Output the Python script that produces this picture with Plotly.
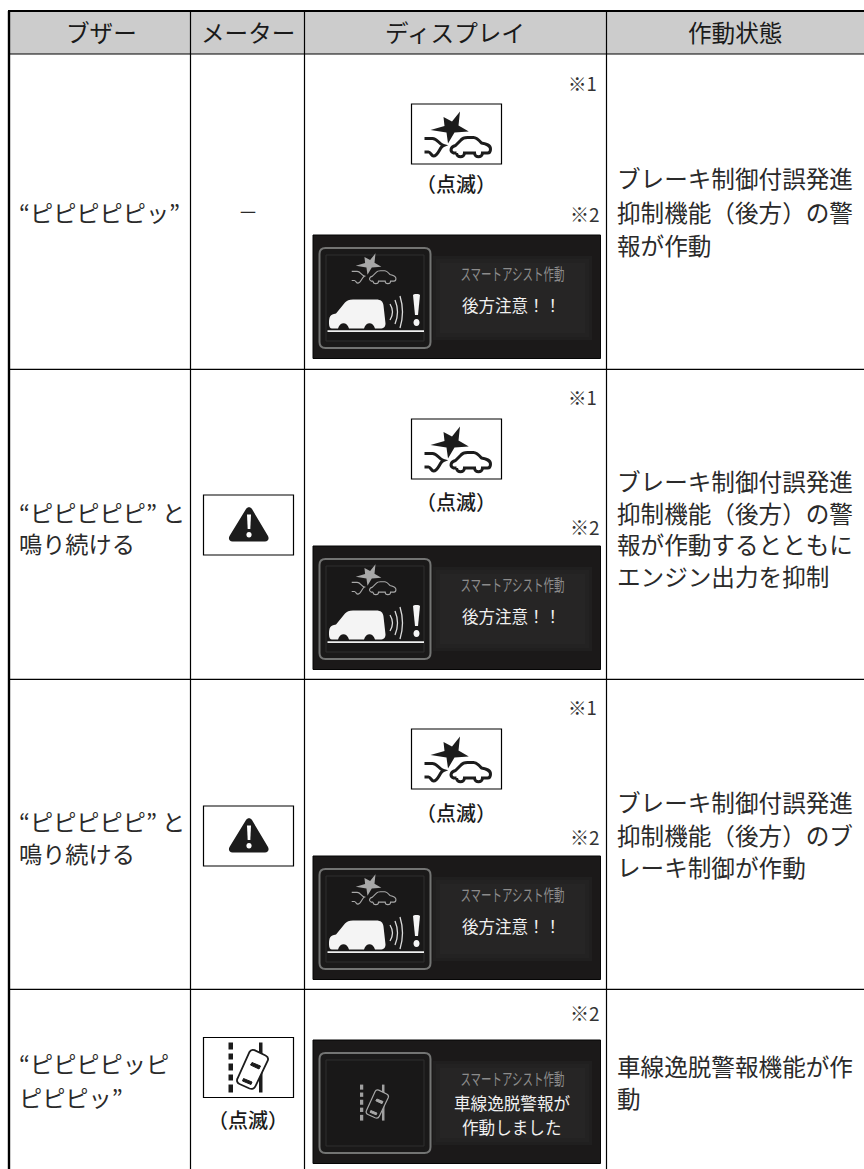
import re
import plotly.graph_objects as go

# ---------- content ----------
headers = ["ブザー", "メーター", "ディスプレイ", "作動状態"]
buzzer_lines = [
    ["“ピピピピピッ”"],
    ["“ピピピピピ” と", "鳴り続ける"],
    ["“ピピピピピ” と", "鳴り続ける"],
    ["“ピピピピッピ", "ピピピッ”"],
]
action_lines = [
    ["ブレーキ制御付誤発進", "抑制機能（後方）の警", "報が作動"],
    ["ブレーキ制御付誤発進", "抑制機能（後方）の警", "報が作動するとともに", "エンジン出力を抑制"],
    ["ブレーキ制御付誤発進", "抑制機能（後方）のブ", "レーキ制御が作動"],
    ["車線逸脱警報機能が作", "動"],
]
meter_dash = "－"
blink_label = "（点滅）"
note1 = "※1"
note2 = "※2"
panel_title = "スマートアシスト作動"
panel_rear = ["後方注意！！"]
panel_lane = ["車線逸脱警報が", "作動しました"]

# ---------- layout geometry (page pixels) ----------
W, H = 864, 1169
col_x = [9, 190.5, 304.5, 606.5]
top_y, head_y = 11, 54
row_y = [369.3, 679.3, 989.3]
buzzer_y = [[212], [512, 543], [821, 853], [1063, 1097]]
action_y = [[178, 212, 245], [481, 512.5, 544, 575.5], [802, 835, 867], [1066, 1098]]
panel_top = [235, 546, 856, 1040]
note1_y = [83, 397, 707]
note2_y = [213, 526, 836, 1012]
icon_top = [104, 419, 729]
blink_y = [183, 501, 812]
warn_top = [495, 806]

FONT = "Noto Sans CJK JP"
INK = "#2a2a2a"
shapes, annots = [], []


def xf(path, ox, oy, s=1.0):
    """Scale and move an icon path given in local units."""
    nums = iter(re.findall(r"[A-Z]|-?\d+\.?\d*", path))
    out, is_x = [], True
    for tok in nums:
        if tok.isalpha():
            out.append(tok)
            is_x = True
        else:
            v = float(tok)
            out.append(f"{(ox + v * s) if is_x else (oy + v * s):.2f}")
            is_x = not is_x
    return " ".join(out)


def path(d, fill=None, line=None, lw=0):
    shapes.append(dict(type="path", path=d, xref="x", yref="y",
                       fillcolor=fill or "rgba(0,0,0,0)",
                       line=dict(color=line or "rgba(0,0,0,0)", width=lw)))


def rect(x0, y0, x1, y1, fill=None, line=None, lw=0):
    shapes.append(dict(type="rect", x0=x0, y0=y0, x1=x1, y1=y1, xref="x", yref="y",
                       fillcolor=fill or "rgba(0,0,0,0)",
                       line=dict(color=line or "rgba(0,0,0,0)", width=lw)))


def hline(x0, x1, y, lw):
    shapes.append(dict(type="line", x0=x0, x1=x1, y0=y, y1=y, xref="x", yref="y",
                       line=dict(color="#000", width=lw)))


def vline(x, y0, y1, lw):
    shapes.append(dict(type="line", x0=x, x1=x, y0=y0, y1=y1, xref="x", yref="y",
                       line=dict(color="#000", width=lw)))


def text(x, y, s, size=23.6, color=INK, anchor="left", weight=None):
    f = dict(family=FONT, size=size, color=color)
    if weight:
        f["weight"] = weight
    annots.append(dict(x=x, y=y, xref="x", yref="y", text=s, showarrow=False,
                       xanchor=anchor, yanchor="middle", font=f, borderpad=0))


STAR = "M 32 13 L 40.5 17.5 L 48.5 7.5 L 47 21.5 L 57.3 27.5 L 43 28.5 L 36.5 39.5 L 35 28.5 L 19 26 L 33 22 Z"
PED = "M 13 34.5 L 21 34.5 C 26 34.5 27 40 32 41.5 C 28 43 27 52 22 52 C 20 52 19 48 17 48 L 13 48"
CAR = ("M 45 49 L 42 49 C 38 47 39 43 44 41.5 L 49.5 36 C 51 34 53 33.5 56 33.5 L 62 33.5 "
       "C 65 33.5 67 35.5 70 39 C 75 40 79 41 79 45 C 79 48 78 49 76 49 L 71 49 "
       "C 71 54 63 54 63 49 L 53 49 C 53 54 45 54 45 49")


def collision(ox, oy, s, color, lw):
    path(xf(STAR, ox, oy, s), fill=color)
    path(xf(PED, ox, oy, s), line=color, lw=lw)
    path(xf(CAR, ox, oy, s), line=color, lw=lw)


def lane(ox, oy, s, dash, lw, car_fill, line, glass):
    for y0, y1 in [(5, 12), (16, 22), (26, 33), (37, 43), (47, 55)]:
        rect(ox + 25 * s, oy + y0 * s, ox + 29.5 * s, oy + y1 * s, fill=dash)
    rect(ox + 55.5 * s, oy + 5 * s, ox + 59 * s, oy + 55 * s, fill=dash)
    body = ("M 46 14.5 C 47 12.5 49 12 51 12.7 L 62 18 C 64.5 19.2 65 21 64.3 23 L 52 48.5 "
            "C 51 51 48.5 52 46 51 L 36 46.5 C 33.5 45.5 33 43 34 41 Z")
    path(xf(body, ox, oy, s), fill=car_fill, line=line, lw=lw)
    path(xf("M 48.5 25 L 57 28.5 L 55.5 31.5 L 47 27.5 Z", ox, oy, s), fill=glass, line=glass, lw=1)
    path(xf("M 40 41 L 48.5 44.5 L 47.5 47 L 39 43.5 Z", ox, oy, s), fill=glass, line=glass, lw=1)


# ---------- table frame ----------
rect(col_x[0], top_y, W + 2, head_y, fill="#cccccc")
hline(col_x[0] - 1, W + 2, top_y, 2.2)
hline(col_x[0], W + 2, head_y, 1.2)
for y in row_y:
    hline(col_x[0], W + 2, y, 1.2)
vline(col_x[0], top_y, H + 2, 2.4)
for x in col_x[1:]:
    vline(x, top_y, H + 2, 1.2)

# ---------- header ----------
for cx, h in zip([101, 248, 455, 735], headers):
    text(cx, 32, h, size=23.6, color="#1a1a1a", anchor="center")

# ---------- text columns ----------
for lines, ys in zip(buzzer_lines, buzzer_y):
    for s, y in zip(lines, ys):
        text(18, y, s, size=23.2)
for lines, ys in zip(action_lines, action_y):
    for s, y in zip(lines, ys):
        text(615.5, y, s)
text(248, 211, meter_dash, size=20, anchor="center")

# ---------- icon boxes in the display column ----------
for top, by, n1 in zip(icon_top, blink_y, note1_y):
    rect(411.5, top, 501.5, top + 60, fill="#fff", line="#000", lw=1.2)
    collision(411.5, top, 1.0, "#1c1c1c", 3)
    text(456, by, blink_label, size=20, color="#1a1a1a", anchor="center", weight=500)
    text(598, n1, note1, size=18.5, color="#333", anchor="right")
for y in note2_y:
    text(601, y, note2, size=19, color="#333", anchor="right")

# ---------- meter column ----------
for top in warn_top:
    rect(203.5, top, 293.5, top + 60, fill="#fff", line="#000", lw=1.2)
    tri = ("M 42.5 14 C 44 11.5 47 11.5 48.5 14 L 64.5 41 C 66 44 64.5 46.5 61.5 46.5 "
           "L 29 46.5 C 26 46.5 24.5 44 26 41 Z")
    path(xf(tri, 203.5, top), fill="#1c1c1c")
    path(xf("M 43.5 19.5 L 47.5 19.5 L 46.8 34 L 44.2 34 Z", 203.5, top), fill="#fff")
    path(xf("M 45.5 37 C 49 37 49 42.5 45.5 42.5 C 42 42.5 42 37 45.5 37 Z", 203.5, top), fill="#fff")
rect(203.5, 1037.5, 293.5, 1097.5, fill="#fff", line="#000", lw=1.2)
lane(203.5, 1037.5, 1.0, "#1c1c1c", 1.8, "#fff", "#1c1c1c", "#1c1c1c")
text(248, 1119, blink_label, size=20, color="#1a1a1a", anchor="center", weight=500)


# ---------- dark panels ----------
def panel(top, rear):
    rect(313, top, 600.5, top + 123.5, fill="#1b1919", line="#050505", lw=1)
    for pad, col in [(0, "#201f1f"), (3, "#232222"), (7, "#262525")]:
        rect(433 + pad, top + 21 + pad, 592 - pad, top + 105 - pad, fill=col)
    frame = ("M 6 0 L 105 0 C 109 0 111 2 111 6 L 111 94 C 111 98 109 100 105 100 "
             "L 6 100 C 2 100 0 98 0 94 L 0 6 C 0 2 2 0 6 0 Z")
    path(xf(frame, 319.5, top + 13), fill="#1a1919", line="#737473", lw=2)
    rect(326, top + 20, 424, top + 106, fill="#191818", line="#2e2e2e", lw=1)
    text(512.5, top + 37.5, panel_title, size=16, color="#8c8c8c", anchor="center")
    if rear:
        for s in panel_rear:
            text(511, top + 69.5, s, size=16.5, color="#f0f0f0", anchor="center")
        collision(343, top + 13.3, 0.67, "#a8a8a8", 1.1)
        suv = ("M 0 24 C 0 17 1 15 7 14 L 16 3 C 18 1 20 0 24 0 L 47 0 C 52 0 54 2 54.5 6 L 56.5 24 "
               "C 56.5 27 55 29 51 29 L 46 29 C 44 22 37 22 35 29 L 20 29 C 18 22 11 22 9 29 "
               "L 3 29 C 1 29 0 27 0 24 Z")
        path(xf(suv, 329, top + 64.5), fill="#f4f4f4")
        rect(327.5, top + 95.2, 424, top + 97, fill="#f0f0f0")
        for dx, y0, y1 in [(0, 7, 23), (5, 3, 27), (10, -1, 31)]:
            path(xf(f"M {dx} {y0} Q {dx + 5} {(y0 + y1) / 2} {dx} {y1}", 390, top + 62),
                 line="#dcdcdc", lw=1.3)
        path(xf("M 0 0 C 0 -1.5 7 -1.5 7 0 L 5 20 L 2 20 Z", 413, top + 60), fill="#f4f4f4")
        path(xf("M 3.5 0 C 7.5 0 7.5 7 3.5 7 C -0.5 7 -0.5 0 3.5 0 Z", 413, top + 84), fill="#f4f4f4")
    else:
        for s, y in zip(panel_lane, [63, 87]):
            text(512, top + y, s, size=16.6, color="#f0f0f0", anchor="center")
        lane(342, top + 41, 0.72, "#a0a0a0", 1.2, "#1a1919", "#a8a8a8", "#a8a8a8")


for i, t in enumerate(panel_top):
    panel(t, i < 3)

# ---------- figure ----------
fig = go.Figure()
fig.update_layout(
    width=W, height=H, margin=dict(l=0, r=0, t=0, b=0), autosize=False,
    paper_bgcolor="#fff", plot_bgcolor="#fff", showlegend=False,
    xaxis=dict(range=[0, W], visible=False, fixedrange=True),
    yaxis=dict(range=[H, 0], visible=False, fixedrange=True),
    shapes=shapes, annotations=annots,
)
page_fix = """
document.body.style.margin = '0';
document.documentElement.style.overflow = 'hidden';
document.querySelectorAll('.annotation-text').forEach(function(t){
  if (t.textContent === '%s') {
    t.setAttribute('textLength','104');
    t.setAttribute('lengthAdjust','spacingAndGlyphs');
  }
});
""" % panel_title
fig.write_html("out.html", post_script=page_fix, config={"displayModeBar": False},
               full_html=True, default_width=W, default_height=H)
